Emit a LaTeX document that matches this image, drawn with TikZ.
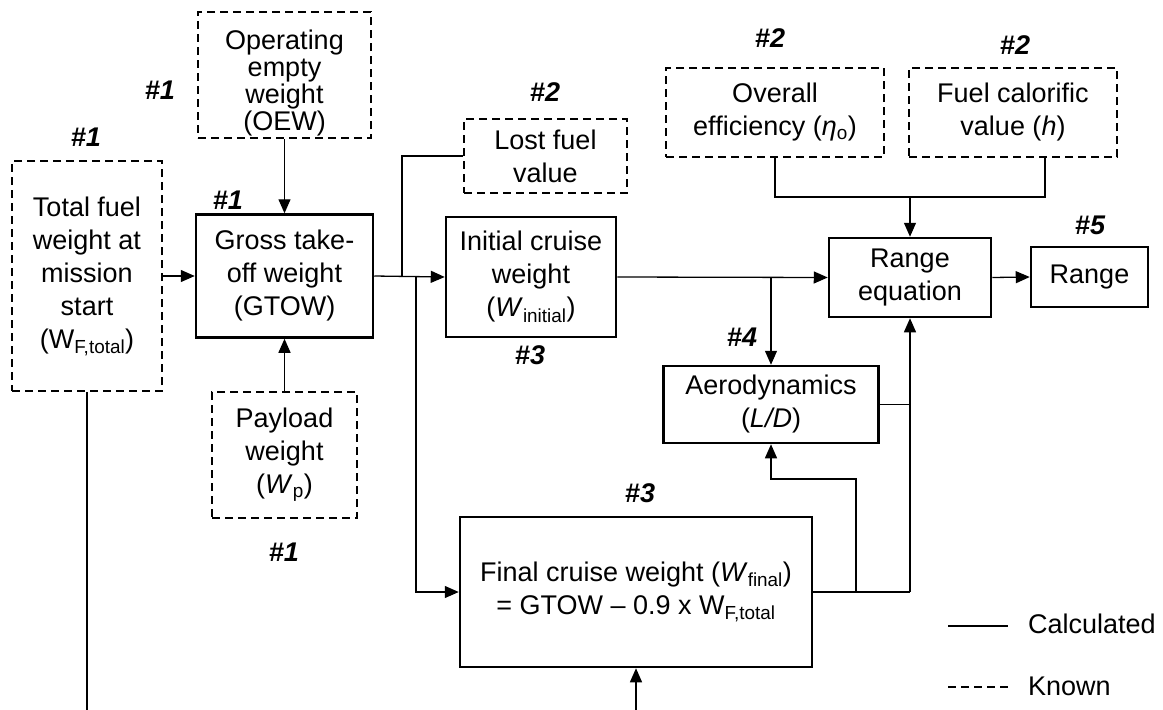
\documentclass[tikz,border=0pt]{standalone}
\usepackage{fontspec}
\setmainfont{Liberation Sans}
\usetikzlibrary{arrows.meta}
\begin{document}
\begin{tikzpicture}[x=1pt,y=-1pt,
  txt/.style={font=\fontsize{27}{33}\selectfont, align=center, inner sep=0pt},
  calcbox/.style={txt, draw, line width=2.5pt},
  knownbox/.style={txt, draw, line width=2pt, dash pattern=on 8pt off 5pt},
  conn/.style={line width=1.3pt},
  arr/.style={conn, -{Triangle[length=14pt,width=12pt]}},
  tag/.style={font=\fontsize{27}{33}\selectfont\bfseries\itshape, inner sep=0pt}]
\useasboundingbox (0,0) rectangle (1163,710);
% boxes
\node[knownbox, minimum width=150pt, minimum height=230pt] (tf) at (87,276)
  {Total fuel\\weight at\\mission\\start\\(W\textsubscript{F,total})};
\node[knownbox, minimum width=173pt, minimum height=126pt] (oew) at (284.5,75) {};
\node[txt, font=\fontsize{27}{27}\selectfont] (oewt) at (284.5,83)
  {Operating\\empty\\weight\\(OEW)};
\node[calcbox, minimum width=177pt, minimum height=123pt] (gtow) at (284.5,276)
  {Gross take-\\off weight\\(GTOW)};
\node[knownbox, minimum width=145pt, minimum height=126pt] (pay) at (284.5,455)
  {Payload\\weight\\(\textit{W}\textsubscript{p})};
\node[knownbox, minimum width=163pt, minimum height=74pt] (lost) at (545.5,156)
  {Lost fuel\\value};
\node[calcbox, minimum width=170pt, minimum height=120pt] (init) at (531,277)
  {Initial cruise\\weight\\(\textit{W}\textsubscript{initial})};
\node[knownbox, minimum width=218pt, minimum height=89pt] (over) at (775,112.5)
  {Overall\\efficiency (\textit{η}\textsubscript{o})};
\node[knownbox, minimum width=208pt, minimum height=89pt] (fuel) at (1013,112.5)
  {Fuel calorific\\value (\textit{h})};
\node[calcbox, minimum width=162pt, minimum height=79pt] (req) at (910,277.5)
  {Range\\equation};
\node[calcbox, minimum width=117pt, minimum height=60pt] (range) at (1089.5,277)
  {Range};
\node[calcbox, minimum width=215pt, minimum height=77pt] (aero) at (771,404.5)
  {Aerodynamics\\(\textit{L/D})};
\node[calcbox, minimum width=352pt, minimum height=150pt] (final) at (636,592)
  {Final cruise weight (\textit{W}\textsubscript{final})\\= GTOW – 0.9 x W\textsubscript{F,total}};
% tags
\node[tag] (t1) at (160,90) {\#1};
\node[tag] (t2) at (86,137) {\#1};
\node[tag] (t3) at (228,200) {\#1};
\node[tag] (t4) at (284,552) {\#1};
\node[tag] (t5) at (545,92) {\#2};
\node[tag] (t6) at (770,38) {\#2};
\node[tag] (t7) at (1015,45) {\#2};
\node[tag] (t8) at (530,355) {\#3};
\node[tag] (t9) at (640,493) {\#3};
\node[tag] (t10) at (742,337) {\#4};
\node[tag] (t11) at (1090,225) {\#5};
% junction coordinates
\coordinate (tfend) at (87,710);
\coordinate (j1) at (402,276);
\coordinate (j2) at (416,276);
\coordinate (j3) at (771,277);
\coordinate (m1) at (910,197);
\coordinate (fr) at (910,592);
\coordinate (fl) at (856,592);
\coordinate (fa) at (856,479);
\coordinate (ar) at (910,404.5);
\coordinate (fbot) at (636,710);
\coordinate (fuelb) at (1045,157);
% connectors
\draw[conn] (tf.south) -- (tfend);
\draw[arr] (tf.east) -- (gtow.west);
\draw[arr] (oew.south) -- (gtow.north);
\draw[arr] (pay.north) -- (gtow.south);
\draw[arr] (gtow.east) -- (init.west);
\draw[conn] (lost.west) -| (j1);
\draw[arr] (j2) |- (final.west);
\draw[arr] (init.east) -- (req.west);
\draw[arr] (j3) -- (aero.north);
\draw[conn] (over.south) |- (m1);
\draw[conn] (fuelb) |- (m1);
\draw[arr] (m1) -- (req.north);
\draw[arr] (req.east) -- (range.west);
\draw[conn] (final.east |- fr) -- (fr);
\draw[arr] (fr) -- (req.south);
\draw[conn] (aero.east) -- (ar);
\draw[arr] (fl) -- (fa) -| (aero.south);
\draw[arr] (fbot) -- (final.south);
% legend
\coordinate (l1a) at (948,626);
\coordinate (l1b) at (1008,626);
\coordinate (l2a) at (948,687);
\coordinate (l2b) at (1008,687);
\draw[line width=2.3pt] (l1a) -- (l1b);
\draw[line width=2pt, dash pattern=on 8pt off 5pt] (l2a) -- (l2b);
\node[txt, anchor=west] (lc) at (1028,624) {Calculated};
\node[txt, anchor=west] (lk) at (1028,686) {Known};
\end{tikzpicture}
\end{document}
